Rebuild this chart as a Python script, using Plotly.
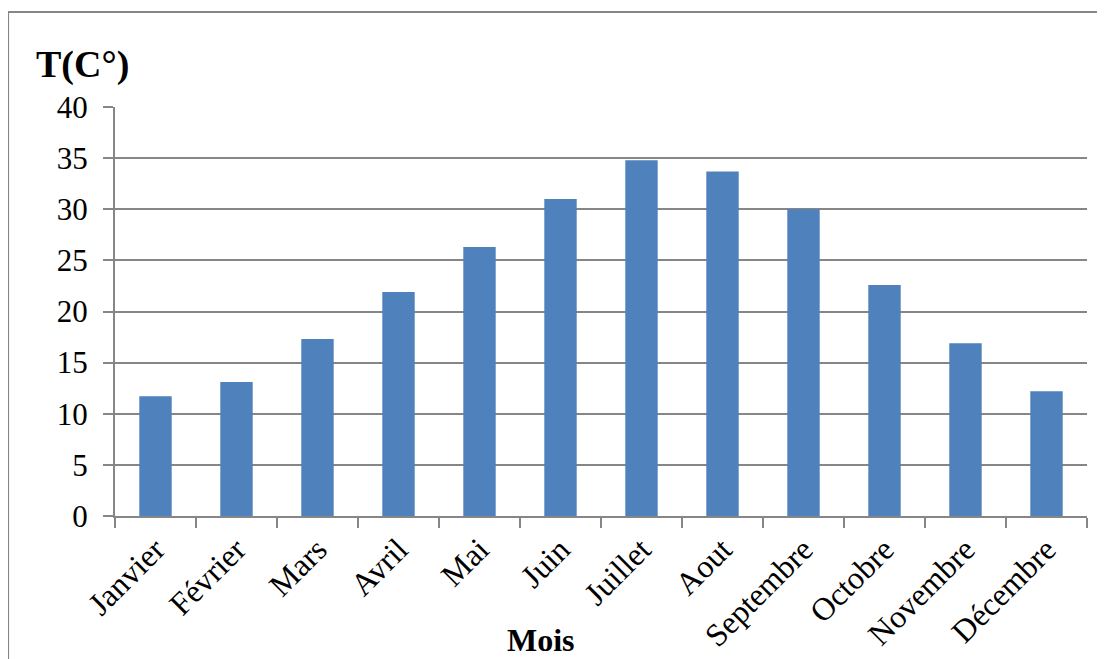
import plotly.graph_objects as go

months = ["Janvier", "Février", "Mars", "Avril", "Mai", "Juin", "Juillet",
          "Aout", "Septembre", "Octobre", "Novembre", "Décembre"]
temps = [11.7, 13.1, 17.3, 21.9, 26.3, 31.0, 34.8, 33.7, 30.0, 22.6, 16.9, 12.2]
y_ticks = [0, 5, 10, 15, 20, 25, 30, 35, 40]

FONT = "Liberation Serif, Times New Roman, serif"
GRAY = "#868686"

fig = go.Figure(go.Bar(x=months, y=temps, marker=dict(color="#4F81BD", line=dict(width=0)),
                       width=0.4))

# page has an 8px body margin, so the figure is sized / offset to compensate
fig.update_layout(
    width=1097, height=651,
    margin=dict(l=107, r=18, t=99, b=143, autoexpand=False),
    paper_bgcolor="white", plot_bgcolor="white",
    font=dict(family=FONT, size=30, color="black"),
    showlegend=False,
    bargap=0.6,
)
fig.update_yaxes(range=[0, 40], tickvals=y_ticks, showgrid=True, gridcolor=GRAY, gridwidth=1.5,
                 showline=True, linecolor=GRAY, linewidth=2, ticks="outside", ticklen=10,
                 tickcolor=GRAY, tickwidth=2, ticklabelstandoff=9, zeroline=False,
                 automargin=False, tickfont=dict(size=31))
fig.update_xaxes(tickangle=-45, showline=True, linecolor=GRAY, linewidth=2, ticks="outside",
                 ticklen=10, tickcolor=GRAY, tickwidth=2, tickson="boundaries",
                 showgrid=False, automargin=False, tickfont=dict(size=32))

fig.add_annotation(text="<b>T(C°)</b>", xref="paper", yref="paper", x=-0.083, y=1.103,
                   xanchor="left", yanchor="middle", showarrow=False,
                   font=dict(family=FONT, size=38, color="black"))
fig.add_annotation(text="<b>Mois</b>", xref="paper", yref="paper", x=0.438, y=-0.304,
                   xanchor="center", yanchor="middle", showarrow=False,
                   font=dict(family=FONT, size=32, color="black"))
fig.add_shape(type="rect", xref="paper", yref="paper", x0=-0.110, x1=1.05, y0=-0.4, y1=1.232,
              line=dict(color=GRAY, width=2), fillcolor="rgba(0,0,0,0)", layer="below")

fig.write_html("out.html")
